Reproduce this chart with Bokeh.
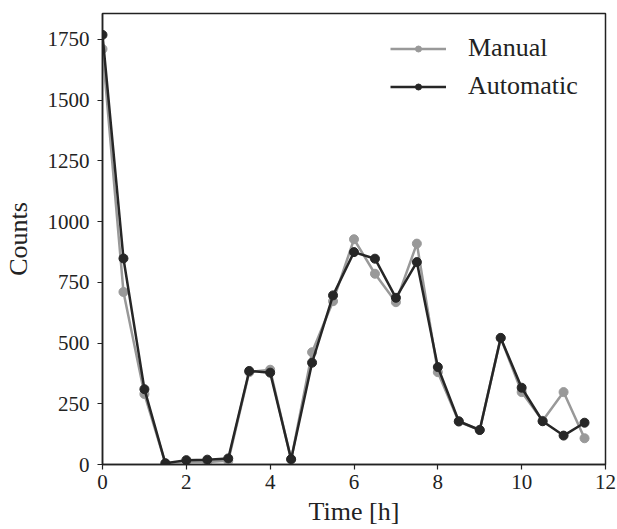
from bokeh.plotting import figure
from bokeh.models import Range1d, FixedTicker, Legend, LegendItem
from bokeh.embed import file_html
from bokeh.resources import INLINE

time_h = [0, 0.5, 1, 1.5, 2, 2.5, 3, 3.5, 4, 4.5, 5, 5.5, 6, 6.5, 7, 7.5,
          8, 8.5, 9, 9.5, 10, 10.5, 11, 11.5]
manual = [1710, 710, 290, 5, 10, 10, 15, 380, 390, 20, 462, 672, 927, 785,
          668, 909, 380, 176, 142, 521, 298, 180, 298, 108]
automatic = [1768, 848, 310, 5, 18, 20, 25, 385, 378, 22, 419, 696, 874, 847,
             686, 833, 401, 178, 142, 521, 316, 178, 119, 172]
x_ticks = [0, 2, 4, 6, 8, 10, 12]
y_ticks = [0, 250, 500, 750, 1000, 1250, 1500, 1750]

FONT = "Liberation Serif"
C_MAN = "#999999"
C_AUTO = "#262626"

p = figure(width=617, height=529, output_backend="svg", toolbar_location=None,
           x_range=Range1d(0, 12), y_range=Range1d(0, 1856),
           min_border_left=100, min_border_right=12, min_border_top=13,
           min_border_bottom=65)
p.grid.visible = False
p.outline_line_color = "#222222"
p.outline_line_width = 1.5

p.axis.axis_line_color = "#222222"
p.axis.axis_line_width = 1.5
p.axis.major_tick_line_color = "#222222"
p.axis.major_tick_line_width = 1.2
p.axis.major_tick_in = 0
p.axis.major_tick_out = 5
p.axis.minor_tick_line_color = None
p.axis.major_label_text_font = FONT
p.axis.major_label_text_font_size = "21px"
p.axis.major_label_text_color = "#222222"
p.axis.axis_label_text_font = FONT
p.axis.axis_label_text_font_size = "26px"
p.axis.axis_label_text_font_style = "normal"
p.axis.axis_label_text_color = "#222222"

p.xaxis.ticker = FixedTicker(ticks=x_ticks)
p.yaxis.ticker = FixedTicker(ticks=y_ticks)
p.xaxis.axis_label = "Time [h]"
p.yaxis.axis_label = "Counts"
p.xaxis.major_label_standoff = 5
p.yaxis.major_label_standoff = 8
p.xaxis.axis_label_standoff = 5
p.yaxis.axis_label_standoff = 12

l1 = p.line(time_h, manual, line_color=C_MAN, line_width=2.5)
s1 = p.scatter(time_h, manual, size=9, fill_color=C_MAN, line_color=C_MAN)
l2 = p.line(time_h, automatic, line_color=C_AUTO, line_width=2.5)
s2 = p.scatter(time_h, automatic, size=9, fill_color=C_AUTO, line_color=C_AUTO)

legend = Legend(items=[LegendItem(label="Manual", renderers=[l1, s1]),
                       LegendItem(label="Automatic", renderers=[l2, s2])],
                location=(288, 363), padding=0, margin=0, spacing=8,
                glyph_width=56, glyph_height=15, label_height=26,
                label_standoff=22, border_line_color=None,
                background_fill_alpha=0,
                label_text_font=FONT, label_text_font_size="26px",
                label_text_color="#222222")
p.add_layout(legend, "center")

open("out.html", "w").write(file_html(p, INLINE))
